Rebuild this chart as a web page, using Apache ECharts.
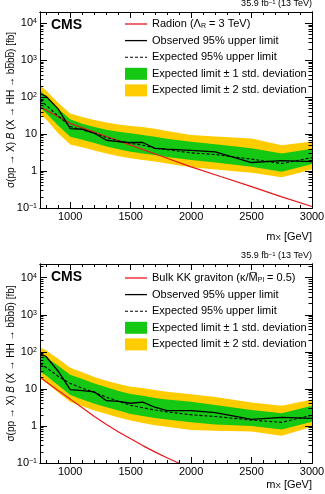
<!DOCTYPE html>
<html>
<head>
<meta charset="utf-8">
<script src="https://cdn.jsdelivr.net/npm/echarts@6/dist/echarts.min.js"></script>
<style>
html, body { margin: 0; padding: 0; background: #fff; }
#main { width: 325px; height: 494px; }
</style>
</head>
<body>
<div id="main"></div>
<script>
// mass points of the limits (GeV)
var mass = [750, 800, 900, 1000, 1100, 1200, 1300, 1400, 1500, 1600, 1700, 1800, 2000, 2200, 2500, 2750, 3000];

// top panel: radion
var obs1 = [125, 105, 48, 14, 13.5, 10.5, 6.8, 6.2, 5.9, 5.9, 4.1, 3.9, 3.6, 3.3, 1.7, 1.9, 1.8];
var exp1 = [85, 60, 31, 16, 13, 10.5, 8, 6.6, 5.6, 5.0, 4.2, 3.8, 3.1, 2.8, 2.1, 1.6, 2.3];
var g1hi = [150, 105, 48, 25, 19, 15.5, 13, 11.5, 10.5, 9.5, 8.4, 7.5, 6.2, 5.3, 4.1, 3.0, 4.0];
var g1lo = [52, 37, 17, 8.5, 7.0, 5.7, 4.6, 3.9, 3.3, 3.0, 2.7, 2.4, 2.0, 1.7, 1.3, 0.95, 1.55];
var y1hi = [210, 150, 70, 36, 29, 24, 20.5, 18, 16.5, 15.5, 14, 12, 9.4, 8.6, 7.6, 5.0, 6.3];
var y1lo = [35, 25, 10.5, 5.2, 4.4, 3.6, 3.0, 2.5, 2.2, 2.0, 1.8, 1.6, 1.27, 1.1, 0.9, 0.68, 1.1];
var radMass = [750, 1000, 1250, 1500, 1750, 2000, 2250, 2500, 2750, 3000];
var radion = [55, 19.5, 9.9, 5.0, 2.55, 1.3, 0.7, 0.38, 0.2, 0.11];

// bottom panel: bulk graviton
var obs2 = [90, 75, 30, 9.5, 9.0, 8.3, 4.8, 4.6, 4.1, 4.4, 3.2, 2.6, 2.6, 2.3, 1.5, 1.7, 1.6];
var exp2 = [48, 38, 22, 14, 10.5, 8.0, 6.0, 4.6, 3.6, 3.1, 2.7, 2.4, 2.0, 1.8, 1.44, 1.25, 1.95];
var g2hi = [89, 72, 42, 24, 18.5, 14, 11, 8.8, 7.3, 6.5, 5.7, 5.2, 4.5, 3.7, 2.7, 2.2, 3.5];
var g2lo = [29, 23, 12.5, 6.8, 5.2, 4.0, 3.2, 2.6, 2.1, 1.85, 1.65, 1.5, 1.25, 1.1, 1.0, 0.8, 1.3];
var y2hi = [134, 110, 65, 37, 28, 21, 16.5, 13.5, 11.5, 10.5, 9.3, 8.4, 7.2, 6.0, 4.3, 3.5, 5.2];
var y2lo = [19, 15, 8, 4.4, 3.4, 2.6, 2.1, 1.7, 1.4, 1.2, 1.05, 0.95, 0.78, 0.74, 0.71, 0.54, 0.95];
var gravMass = [750, 800, 900, 1000, 1100, 1200, 1300, 1400, 1500, 1600, 1700, 1800, 1900, 2000];
var grav = [21, 15.5, 9.0, 5.3, 3.1, 1.8, 1.1, 0.69, 0.45, 0.295, 0.2, 0.138, 0.098, 0.071];

// ticks
var xMajor = [1000, 1500, 2000, 2500, 3000];
var xMinor = [800, 900, 1100, 1200, 1300, 1400, 1600, 1700, 1800, 1900, 2100, 2200, 2300, 2400, 2600, 2700, 2800, 2900];
var yMinor = [];
for (var k = -1; k <= 4; k++) {
	for (var m = 2; m <= 9; m++) yMinor.push(+(m * Math.pow(10, k)).toPrecision(3));
}

var names = {
	obs: 'Observed 95% upper limit',
	exp: 'Expected 95% upper limit',
	s1: 'Expected limit \u00b1 1 std. deviation',
	s2: 'Expected limit \u00b1 2 std. deviation',
	rad: 'Radion (\u039bR = 3 TeV)',
	grav: 'Bulk KK graviton (\u03ba/MPl = 0.5)'
};

var font = 'Liberation Sans, Arial, Helvetica, sans-serif';
var GREEN = '#14c814';
var YELLOW = '#ffcc00';
var RED = '#e8161c';
// legend icons: thin solid / dashed bars
var solidIcon = 'path://M0,0H22V1.3H0Z';
var dashIcon = 'path://M0,0H3V1.1H0Z M5,0H8V1.1H5Z M10,0H13V1.1H10Z M15,0H18V1.1H15Z M20,0H22V1.1H20Z';

var panels = [
	{ top: 12, height: 196, max: 2.0e4, obs: obs1, exp: exp1, ghi: g1hi, glo: g1lo, yhi: y1hi, ylo: y1lo,
		thMass: radMass, th: radion, thName: names.rad, legTop: 18, lumiTop: -1, nameTop: 231 },
	{ top: 264, height: 199, max: 2.35e4, obs: obs2, exp: exp2, ghi: g2hi, glo: g2lo, yhi: y2hi, ylo: y2lo,
		thMass: gravMass, th: grav, thName: names.grav, legTop: 272, lumiTop: 251, nameTop: 479 }
];

function pairs(xs, ys) {
	var out = [];
	for (var i = 0; i < xs.length; i++) out.push([xs[i], ys[i]]);
	return out;
}
function yLabel(v) {
	var l = Math.log(v) / Math.LN10;
	var e = Math.round(l);
	if (Math.abs(l - e) > 1e-6) return '';
	if (e === 0) return '1';
	if (e === 1) return '10';
	return '10{sup|' + (e < 0 ? '\u2212' : '') + Math.abs(e) + '}';
}

function xAx(g, pos, ticks, len, labels) {
	return {
		type: 'value', gridIndex: g, position: pos, min: 750, max: 3000, z: 10,
		axisLine: { show: true, onZero: false, lineStyle: { color: '#000', width: 1 } },
		axisTick: { show: true, inside: true, length: len, customValues: ticks, lineStyle: { color: '#000', width: 1 } },
		axisLabel: { show: labels, customValues: ticks, margin: 3, color: '#000', fontSize: 11, fontFamily: font,
			formatter: function (v) { return String(v); } },
		splitLine: { show: false }
	};
}
function yAx(g, pos, max, minor, labels) {
	var a = {
		type: 'log', logBase: 10, gridIndex: g, position: pos, min: 0.1, max: max, z: 10,
		axisLine: { show: true, onZero: false, lineStyle: { color: '#000', width: 1 } },
		axisTick: { show: true, inside: true, length: minor ? 3.5 : 7, lineStyle: { color: '#000', width: 1 } },
		axisLabel: {
			show: labels, margin: 3, color: '#000', fontSize: 11, fontFamily: font,
			formatter: yLabel,
			rich: { sup: { fontSize: 7, verticalAlign: 'top', fontFamily: font, color: '#000' } }
		},
		splitLine: { show: false }
	};
	if (minor) a.axisTick.customValues = yMinor;
	if (labels) {
		a.name = '\u03c3(pp \u2192 X) {i|B} (X \u2192 HH \u2192 bb\u0305bb\u0305) [fb]';
		a.nameLocation = 'middle';
		a.nameGap = 24;
		a.nameMoveOverlap = false;
		a.nameTextStyle = { fontSize: 10, color: '#000', fontFamily: font,
			rich: { i: { fontStyle: 'italic', fontSize: 10, fontFamily: font, color: '#000' } } };
	}
	return a;
}

var grids = [], xAxes = [], yAxes = [], series = [], legends = [], titles = [];

panels.forEach(function (p, g) {
	grids.push({ left: 40, right: 13, top: p.top, height: p.height, containLabel: false, outerBoundsMode: 'none' });
	xAxes.push(xAx(g, 'bottom', xMajor, 6, true), xAx(g, 'bottom', xMinor, 3, false),
		xAx(g, 'top', xMajor, 6, false), xAx(g, 'top', xMinor, 3, false));
	yAxes.push(yAx(g, 'left', p.max, false, true), yAx(g, 'left', p.max, true, false),
		yAx(g, 'right', p.max, false, false), yAx(g, 'right', p.max, true, false));

	var ax = { xAxisIndex: g * 4, yAxisIndex: g * 4 };
	// bands painted as overlapping areas down to the axis start
	function band(name, vals, color) {
		return Object.assign({
			type: 'line', name: name, data: pairs(mass, vals), symbol: 'none', silent: true,
			lineStyle: { width: 0, opacity: 0 },
			itemStyle: { color: color },
			areaStyle: { color: color, opacity: 1, origin: 'start' }
		}, ax);
	}
	series.push(band(names.s2, p.yhi, YELLOW));
	series.push(band(names.s1, p.ghi, GREEN));
	series.push(band(names.s2, p.glo, YELLOW));
	series.push(band('base' + g, p.ylo, '#ffffff'));

	series.push(Object.assign({
		type: 'line', name: p.thName, data: pairs(p.thMass, p.th), symbol: 'none',
		itemStyle: { color: RED }, lineStyle: { color: RED, width: 1.2 }
	}, ax));
	series.push(Object.assign({
		type: 'line', name: names.exp, data: pairs(mass, p.exp), symbol: 'none',
		itemStyle: { color: '#000' }, lineStyle: { color: '#000', width: 1.1, type: [3, 2] }
	}, ax));
	series.push(Object.assign({
		type: 'line', name: names.obs, data: pairs(mass, p.obs), symbol: 'none',
		itemStyle: { color: '#000' }, lineStyle: { color: '#000', width: 1.3 }
	}, ax));

	legends.push({
		orient: 'vertical', left: 125, top: p.legTop, padding: 0,
		itemWidth: 22, itemHeight: 12, itemGap: 4.6, selectedMode: false,
		textStyle: {
			fontSize: 11, lineHeight: 12, color: '#000', fontFamily: font,
			rich: {
				sub: { fontSize: 7, verticalAlign: 'bottom', lineHeight: 12, fontFamily: font, color: '#000' }
			}
		},
		formatter: function (name) {
			if (name === names.rad) return 'Radion (\u039b{sub|R} = 3 TeV)';
			if (name === names.grav) return 'Bulk KK graviton (\u03ba/M\u0305{sub|Pl} = 0.5)';
			return name;
		},
		data: [
			{ name: p.thName, icon: solidIcon, itemStyle: { color: RED } },
			{ name: names.obs, icon: solidIcon, itemStyle: { color: '#000' } },
			{ name: names.exp, icon: dashIcon, itemStyle: { color: '#000' } },
			{ name: names.s1, icon: 'rect', itemStyle: { color: GREEN } },
			{ name: names.s2, icon: 'rect', itemStyle: { color: YELLOW } }
		]
	});

	var rich = { sup: { fontSize: 6, verticalAlign: 'top', fontFamily: font, color: '#000' },
		sub: { fontSize: 8, verticalAlign: 'bottom', fontFamily: font, color: '#000' } };
	titles.push({ text: '35.9 fb{sup|\u22121} (13 TeV)', right: 13, top: p.lumiTop, padding: 0,
		textStyle: { fontSize: 9, fontWeight: 'normal', color: '#000', fontFamily: font, rich: rich } });
	titles.push({ text: 'CMS', left: 51, top: p.top + 6, padding: 0,
		textStyle: { fontSize: 14, fontWeight: 'bold', color: '#000', fontFamily: font } });
	titles.push({ text: 'm{sub|X} [GeV]', right: 13, top: p.nameTop, padding: 0,
		textStyle: { fontSize: 11, fontWeight: 'normal', color: '#000', fontFamily: font, rich: rich } });
});

var myChart = echarts.init(document.getElementById('main'));
var option = {
	animation: false,
	backgroundColor: '#fff',
	title: titles,
	legend: legends,
	grid: grids,
	xAxis: xAxes,
	yAxis: yAxes,
	series: series
};
myChart.setOption(option);
</script>
</body>
</html>
